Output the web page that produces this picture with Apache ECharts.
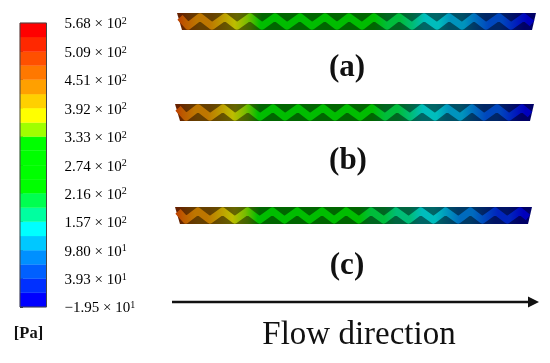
<!DOCTYPE html>
<html lang="en">
<head>
<meta charset="utf-8">
<style>
    html, body { margin: 0; padding: 0; background: #fff; }
    #main { width: 550px; height: 363px; }
</style>
</head>
<body>
<div id="main"></div>
<script src="https://cdn.jsdelivr.net/npm/echarts@6/dist/echarts.min.js"></script>
<script>
    // colour bar, [Pa]
    var tickValues = [-19.5, 39.3, 98, 157, 216, 274, 333, 392, 451, 509, 568];
    var tickLabels = ['−1.95 × 10{s|1}', '3.93 × 10{s|1}', '9.80 × 10{s|1}', '1.57 × 10{s|2}', '2.16 × 10{s|2}',
        '2.74 × 10{s|2}', '3.33 × 10{s|2}', '3.92 × 10{s|2}', '4.51 × 10{s|2}', '5.09 × 10{s|2}', '5.68 × 10{s|2}'];
    var bandLow = [-19.5, 9.9, 39.3, 68.6, 98, 127.4, 157, 186, 216, 245, 274, 304, 333, 362, 392, 421, 451, 480, 509, 539];
    var bandHigh = [9.9, 39.3, 68.6, 98, 127.4, 157, 186, 216, 245, 274, 304, 333, 362, 392, 421, 451, 480, 509, 539, 568];
    var bandColors = ['#0000ff', '#0030ff', '#0060ff', '#0090ff', '#00c8ff', '#00ffff', '#00ffa0', '#00ff50',
        '#00ff00', '#00ff00', '#00ff00', '#00ff00', '#a0ff00', '#ffff00', '#ffd000', '#ffa000',
        '#ff7800', '#ff5000', '#ff2800', '#ff0000'];

    // the channel: zigzag along the flow, outline of the strip
    var zigzagX = [3, 11, 23, 35, 48, 60, 73, 85, 98, 110, 123, 135, 148, 160, 172, 185, 197, 210, 222, 235,
        247, 260, 272, 285, 297, 309, 322, 334, 347, 355];
    var zigzagY = [4.2, -4.6, 4.6, -4.6, 4.6, -4.6, 4.6, -4.6, 4.6, -4.6, 4.6, -4.6, 4.6, -4.6, 4.6, -4.6, 4.6, -4.6, 4.6, -4.6,
        4.6, -4.6, 4.6, -4.6, 4.6, -4.6, 4.6, -4.6, 4.6, -2];
    var outlineX = [0, 359, 355, 5];
    var outlineY = [8.5, 8.5, -8.5, -8.5];

    var pressureA = [490, 465, 445, 425, 405, 385, 350, 325, 310, 300, 290, 280, 265, 255, 245, 230, 220, 205, 190, 170,
        150, 135, 115, 100, 85, 65, 45, 25, 5, -15];
    var pressureB = [495, 470, 450, 430, 410, 390, 355, 330, 315, 300, 290, 280, 265, 255, 245, 230, 218, 203, 188, 168,
        148, 132, 112, 98, 80, 62, 42, 22, 3, -15];
    var pressureC = [490, 465, 445, 425, 405, 385, 350, 325, 310, 295, 285, 275, 262, 250, 240, 225, 212, 198, 180, 160,
        142, 128, 110, 95, 78, 60, 38, 20, 2, -15];

    function colorOf(p, shade) {
        var c = bandColors[0];
        for (var i = 0; i < bandLow.length; i++) {
            if (p >= bandLow[i]) c = bandColors[i];
        }
        var r = parseInt(c.substr(1, 2), 16), g = parseInt(c.substr(3, 2), 16), b = parseInt(c.substr(5, 2), 16);
        return 'rgb(' + Math.round(r * shade) + ',' + Math.round(g * shade) + ',' + Math.round(b * shade) + ')';
    }

    // x0, x1: extent of the shape the gradient is stretched over
    function gradient(pressure, shade, x0, x1) {
        var stops = [];
        for (var i = 0; i < zigzagX.length; i++) {
            stops.push({offset: (zigzagX[i] - x0) / (x1 - x0), color: colorOf(pressure[i], shade)});
        }
        return new echarts.graphic.LinearGradient(0, 0, 1, 0, stops);
    }

    function stripSeries(index, pressure) {
        var points = [];
        for (var i = 0; i < zigzagX.length; i++) {
            points.push([zigzagX[i], zigzagY[i]]);
        }
        return [{
            type: 'custom',
            xAxisIndex: index,
            yAxisIndex: index,
            data: [[0, 0]],
            renderItem: function (params, api) {
                var pts = [];
                for (var j = 0; j < outlineX.length; j++) {
                    pts.push(api.coord([outlineX[j], outlineY[j]]));
                }
                return {type: 'polygon', shape: {points: pts}, style: {fill: gradient(pressure, 0.4, 0, 359)}};
            }
        }, {
            type: 'line',
            xAxisIndex: index,
            yAxisIndex: index,
            data: points,
            z: 3,
            symbol: 'none',
            lineStyle: {width: 7, color: gradient(pressure, 0.74, 3, 355), cap: 'butt', join: 'round'}
        }];
    }

    function hiddenX(i) {
        return {type: 'value', gridIndex: i, min: 0, max: 359, show: false};
    }
    function hiddenY(i) {
        return {type: 'value', gridIndex: i, min: -8.5, max: 8.5, show: false};
    }

    function textItem(x, y, str, size, bold) {
        return {
            type: 'text', x: x, y: y,
            style: {text: str, fill: '#111', font: (bold ? 'bold ' : '') + size + 'px "Liberation Serif"', textAlign: 'center', textVerticalAlign: 'middle'}
        };
    }

    var chart = echarts.init(document.getElementById('main'));
    chart.setOption({
        animation: false,
        backgroundColor: '#fff',
        grid: [
            {left: 20, top: 23, width: 26.5, height: 284},
            {left: 177, top: 13, width: 359, height: 17},
            {left: 175, top: 104, width: 359, height: 17},
            {left: 175, top: 207, width: 357, height: 17}
        ],
        xAxis: [
            {type: 'value', gridIndex: 0, min: 0, max: 1, show: false},
            hiddenX(1), hiddenX(2), hiddenX(3)
        ],
        yAxis: [
            {
                type: 'value', gridIndex: 0, min: -19.5, max: 568, position: 'right',
                splitLine: {show: false},
                axisLine: {show: false},
                axisTick: {show: true, length: 3, customValues: tickValues, lineStyle: {color: '#333', width: 1}},
                axisLabel: {
                    show: true,
                    customValues: tickValues,
                    margin: 18,
                    color: '#000',
                    fontFamily: 'Liberation Serif',
                    fontSize: 15,
                    padding: [3, 0, 0, 0],
                    formatter: function (v) {
                        return tickLabels[tickValues.indexOf(v)];
                    },
                    rich: {
                        s: {fontFamily: 'Liberation Serif', fontSize: 10, color: '#000', verticalAlign: 'top', padding: [0, 0, 6, 0]}
                    }
                }
            },
            hiddenY(1), hiddenY(2), hiddenY(3)
        ],
        series: [{
            type: 'custom',
            xAxisIndex: 0,
            yAxisIndex: 0,
            data: bandLow.map(function (v, i) { return [v, bandHigh[i], i]; }),
            renderItem: function (params, api) {
                var a = api.coord([0, api.value(1)]);
                var b = api.coord([1, api.value(0)]);
                return {
                    type: 'rect',
                    shape: {x: a[0], y: a[1], width: b[0] - a[0], height: b[1] - a[1]},
                    style: {fill: bandColors[api.value(2)], stroke: bandColors[api.value(2)], lineWidth: 0.3}
                };
            }
        }].concat(stripSeries(1, pressureA), stripSeries(2, pressureB), stripSeries(3, pressureC)),
        graphic: [
            textItem(347, 68, '(a)', 31, true),
            textItem(348, 161, '(b)', 31, true),
            textItem(347, 266, '(c)', 31, true),
            textItem(28.5, 334, '[Pa]', 16.5, true),
            textItem(359, 335, 'Flow direction', 33, false),
            {type: 'rect', z: 10, shape: {x: 20, y: 23, width: 26.5, height: 284}, style: {fill: 'none', stroke: '#444', lineWidth: 1}},
            {type: 'line', shape: {x1: 172, y1: 302, x2: 532, y2: 302}, style: {stroke: '#111', lineWidth: 2.5}},
            {type: 'polygon', shape: {points: [[528, 296.5], [539, 302], [528, 307.5]]}, style: {fill: '#111'}}
        ]
    });
</script>
</body>
</html>
